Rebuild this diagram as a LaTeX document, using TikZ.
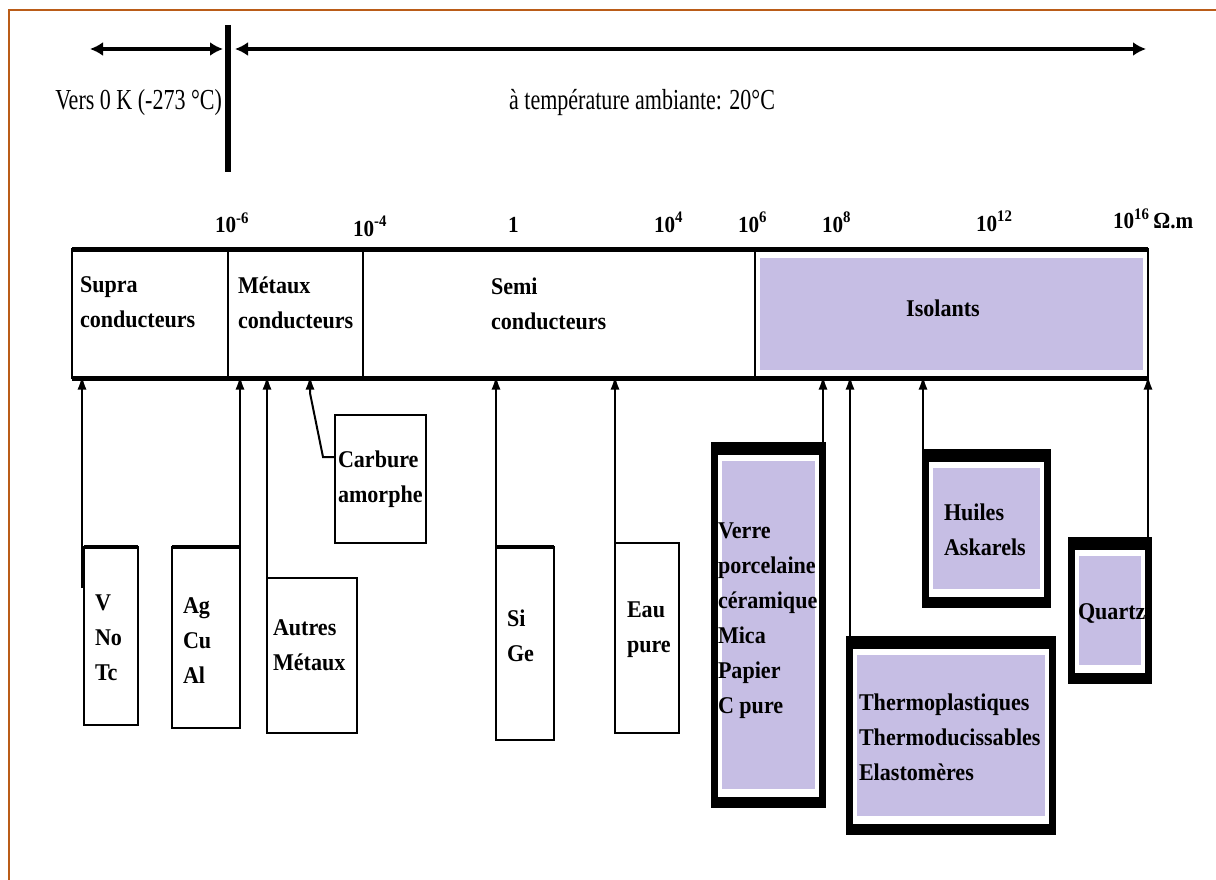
\documentclass[tikz,border=0pt]{standalone}
\usepackage{fontspec}
\setmainfont{Liberation Serif}
\newfontfamily\condfont[FakeStretch=0.76]{Liberation Serif}
\newfontfamily\boldcond[FakeStretch=0.92]{Liberation Serif Bold}
\usetikzlibrary{arrows.meta}
\definecolor{lav}{RGB}{198,190,228}
\definecolor{framebrown}{RGB}{186,92,24}
\begin{document}
\begin{tikzpicture}[x=1pt,y=-1pt,
  every node/.style={inner sep=0pt,outer sep=0pt},
  lbl/.style={font=\boldcond\fontsize{24}{35}\selectfont,align=left,anchor=west},
  hdr/.style={font=\condfont\fontsize{29}{32}\selectfont},
  scl/.style={font=\boldcond\fontsize{23}{26}\selectfont,anchor=base west},
  seg/.style={draw,line width=2.5pt,minimum height=129pt},
  thinbox/.style={draw,line width=2pt,fill=white},
  thickbox/.style={fill=black},
  uparr/.style={-{Latex[length=14pt,width=9pt]},line width=2pt,shorten >=-2.5pt},
  toparr/.style={line width=4pt,{Latex[length=13pt,width=14pt]}-{Latex[length=13pt,width=14pt]}},
]
\useasboundingbox (0,0) rectangle (1216,880);
\fill[white] (0,0) rectangle (1216,880);
\draw[framebrown,line width=2pt] (9,880) -- (9,10) -- (1216,10);

% top temperature arrows
\coordinate (la) at (90,49); \coordinate (lb) at (223,49);
\coordinate (ra) at (235,49); \coordinate (rb) at (1146,49);
\coordinate (vt) at (228,25); \coordinate (vb) at (228,172);
\draw[toparr] (la) -- (lb);
\draw[toparr] (ra) -- (rb);
\draw[line width=6pt] (vt) -- (vb);
\node[hdr,anchor=east] (vers) at (222,103) {Vers 0 K (-273 °C)};
\node[hdr] (amb) at (642,103) {à température ambiante: 20°C};

% scale
\node[scl] (s1) at (215,233) {10\textsuperscript{-6}};
\node[scl] (s2) at (353,236) {10\textsuperscript{-4}};
\node[scl] (s3) at (508,232) {1};
\node[scl] (s4) at (654,232) {10\textsuperscript{4}};
\node[scl] (s5) at (738,232) {10\textsuperscript{6}};
\node[scl] (s6) at (822,232) {10\textsuperscript{8}};
\node[scl] (s7) at (976,231) {10\textsuperscript{12}};
\node[scl] (s8) at (1113,229) {10\textsuperscript{16}\,Ω.m};

% main bar
\node[seg,minimum width=156pt] (supra) at (150,313.5) {};
\node[seg,minimum width=135pt] (metaux) at (295.5,313.5) {};
\node[seg,minimum width=392pt] (semi) at (559,313.5) {};
\node[seg,minimum width=393pt] (isol) at (951.5,313.5) {};
\fill[lav] ([shift={(5,9)}]isol.north west) rectangle ([shift={(-5,-8)}]isol.south east);
\draw[line width=5pt] (supra.north west) -- (isol.north east);
\draw[line width=5pt] (supra.south west) -- (isol.south east);
\node[lbl] (tsupra) at (80,302.5) {Supra\\conducteurs};
\node[lbl] (tmetaux) at (238,303) {Métaux\\conducteurs};
\node[lbl] (tsemi) at (491,304) {Semi\\conducteurs};
\node[lbl,anchor=center] (tisol) at (943,308) {Isolants};

% thin boxes
\node[thinbox,minimum width=54pt,minimum height=178pt] (vbox) at (111,636) {};
\node[thinbox,minimum width=68pt,minimum height=181pt] (agbox) at (206,637.5) {};
\node[thinbox,minimum width=90pt,minimum height=155pt] (autres) at (312,655.5) {};
\node[thinbox,minimum width=91pt,minimum height=128pt] (carbure) at (380.5,479) {};
\node[thinbox,minimum width=58pt,minimum height=193pt] (sige) at (525,643.5) {};
\node[thinbox,minimum width=64pt,minimum height=190pt] (eau) at (647,638) {};
\draw[line width=4pt] (vbox.north west) -- (vbox.north east);
\draw[line width=4pt] (agbox.north west) -- (agbox.north east);
\draw[line width=4pt] (sige.north west) -- (sige.north east);

% thick boxes
\node[thickbox,minimum width=115pt,minimum height=366pt] (verre) at (768.5,625) {};
\node[thickbox,minimum width=210pt,minimum height=199pt] (thermo) at (951,735.5) {};
\node[thickbox,minimum width=129pt,minimum height=159pt] (huiles) at (986.5,528.5) {};
\node[thickbox,minimum width=84pt,minimum height=147pt] (quartz) at (1110,610.5) {};
\foreach \n in {verre,thermo,huiles,quartz}{
  \fill[white] ([shift={(7,13)}]\n.north west) rectangle ([shift={(-7,-11)}]\n.south east);
  \fill[lav] ([shift={(11,19)}]\n.north west) rectangle ([shift={(-11,-19)}]\n.south east);
}

% box texts
\node[lbl] (tv) at (95,638) {V\\No\\Tc};
\node[lbl] (tag) at (183,641) {Ag\\Cu\\Al};
\node[lbl] (taut) at (273,645.5) {Autres\\Métaux};
\node[lbl] (tcarb) at (338,479.5) {Carbure\\amorphe};
\node[lbl] (tsi) at (507,635.5) {Si\\Ge};
\node[lbl] (teau) at (627,629.5) {Eau\\pure};
\node[lbl] (tverre) at (718,621) {Verre\\porcelaine\\céramique\\Mica\\Papier\\C pure};
\node[lbl] (thuiles) at (944,529.5) {Huiles\\Askarels};
\node[lbl] (tquartz) at (1078,613) {Quartz};
\node[lbl] (tthermo) at (859,737) {Thermoplastiques\\Thermoducissables\\Elastomères};

% connectors
\coordinate (cv) at ([shift={(-2,41)}]vbox.north west);
\draw[uparr] (cv) -- (cv |- supra.south);
\draw[uparr] (agbox.north east) -- (agbox.north east |- supra.south);
\draw[uparr] (autres.north west) -- (autres.north west |- supra.south);
\coordinate (c1) at ([shift={(0,-22)}]carbure.west);
\coordinate (c2) at (323,457);
\coordinate (c3) at (310,393);
\draw[uparr] (c1) -- (c2) -- (c3) -- (c3 |- supra.south);
\draw[uparr] (sige.north west) -- (sige.north west |- supra.south);
\draw[uparr] (eau.north west) -- (eau.north west |- supra.south);
\coordinate (cverre) at ([shift={(-3,0)}]verre.north east);
\draw[uparr] (cverre) -- (cverre |- supra.south);
\coordinate (cthermo) at ([shift={(4,0)}]thermo.north west);
\draw[uparr] (cthermo) -- (cthermo |- supra.south);
\coordinate (chuiles) at ([shift={(1,0)}]huiles.north west);
\draw[uparr] (chuiles) -- (chuiles |- supra.south);
\coordinate (cquartz) at ([shift={(-4,0)}]quartz.north east);
\draw[uparr] (cquartz) -- (cquartz |- supra.south);
\end{tikzpicture}
\end{document}
